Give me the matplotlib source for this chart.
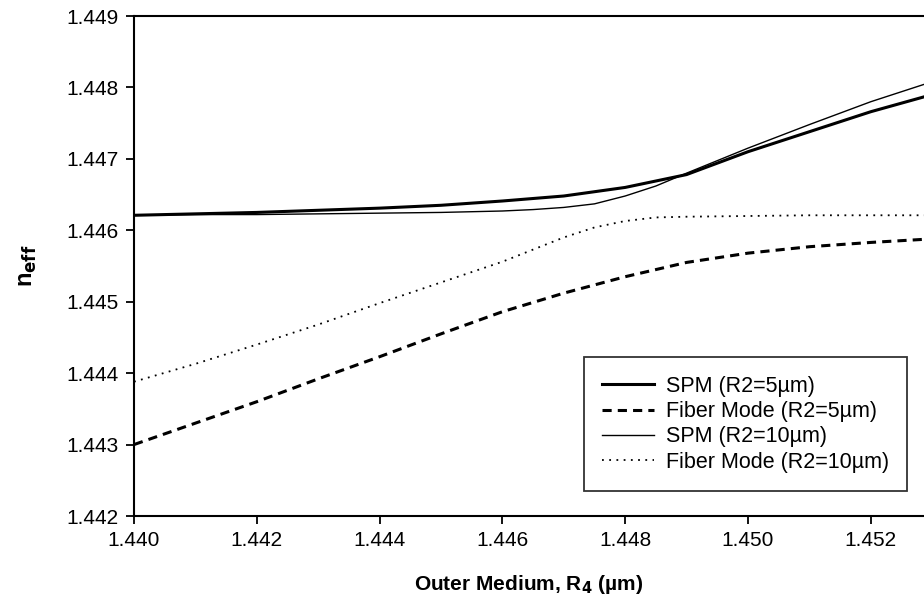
import matplotlib
matplotlib.use('Agg')
import matplotlib.pyplot as plt

plt.rcParams['font.family'] = ['Liberation Sans', 'DejaVu Sans']

# outer medium index (x) and effective index of each mode
r4 = [1.440, 1.441, 1.442, 1.443, 1.444, 1.445, 1.446, 1.447, 1.448,
      1.449, 1.450, 1.451, 1.452, 1.453]
spm_5 = [1.44621, 1.44623, 1.44625, 1.44628, 1.44631, 1.44635, 1.44641,
         1.44648, 1.44660, 1.44678, 1.44710, 1.44738, 1.44766, 1.44790]
fiber_5 = [1.44300, 1.44330, 1.44360, 1.44392, 1.44423, 1.44455, 1.44486,
           1.44512, 1.44535, 1.44555, 1.44568, 1.44577, 1.44583, 1.44588]

r4_b = [1.440, 1.441, 1.442, 1.443, 1.444, 1.445, 1.446, 1.4465, 1.447,
        1.4475, 1.448, 1.4485, 1.449, 1.450, 1.451, 1.452, 1.453]
spm_10 = [1.44621, 1.44622, 1.44622, 1.44623, 1.44624, 1.44625, 1.44627,
          1.44629, 1.44632, 1.44637, 1.44648, 1.44662, 1.44680, 1.44715,
          1.44748, 1.44780, 1.44808]
fiber_10 = [1.44388, 1.44413, 1.44440, 1.44468, 1.44498, 1.44527, 1.44556,
            1.44573, 1.44590, 1.44604, 1.44613, 1.44618, 1.44619, 1.44620,
            1.44621, 1.44621, 1.44621]

labels = ['SPM (R2=5\u00b5m)', 'Fiber Mode (R2=5\u00b5m)',
          'SPM (R2=10\u00b5m)', 'Fiber Mode (R2=10\u00b5m)']

fig = plt.figure(figsize=(9.24, 6.07), dpi=100)
ax = fig.add_axes([134/924, 91/607, 1 - 134/924, 500/607])

ax.plot(r4, spm_5, color='k', lw=2.2, label=labels[0])
ax.plot(r4, fiber_5, color='k', lw=2.2, dashes=(3, 2), label=labels[1])
ax.plot(r4_b, spm_10, color='k', lw=1.0, label=labels[2])
ax.plot(r4_b, fiber_10, color='k', lw=1.3, linestyle=(0, (1, 3)),
        label=labels[3])

ax.set_xlim(1.440, 1.440 + 790/61.4*0.001)
ax.set_ylim(1.442, 1.449)
ax.set_xticks([1.440, 1.442, 1.444, 1.446, 1.448, 1.450, 1.452])
ax.set_yticks([1.442, 1.443, 1.444, 1.445, 1.446, 1.447, 1.448, 1.449])
ax.xaxis.set_major_formatter(matplotlib.ticker.FormatStrFormatter('%.3f'))
ax.yaxis.set_major_formatter(matplotlib.ticker.FormatStrFormatter('%.3f'))

ax.spines['right'].set_visible(False)
for s in ['left', 'bottom', 'top']:
    ax.spines[s].set_linewidth(1.5)
ax.tick_params(direction='out', length=6, width=1.3, labelsize=15,
               top=False, right=False, pad=5)

ax.set_xlabel('Outer Medium, R$_\\mathbf{4}$ (\u00b5m)', fontsize=15,
              fontweight='bold', labelpad=16)
ax.set_ylabel('n$_\\mathbf{eff}$', fontsize=17, fontweight='bold',
              labelpad=20)

leg = ax.legend(loc='lower right', bbox_to_anchor=(0.979, 0.05),
                fontsize=15.5, frameon=True, fancybox=False, handlelength=2.4,
                borderpad=0.85, labelspacing=0.2, handletextpad=0.55,
                borderaxespad=0)
leg.get_frame().set_edgecolor('k')
leg.get_frame().set_linewidth(1.3)

fig.savefig('out.png', dpi=100)
